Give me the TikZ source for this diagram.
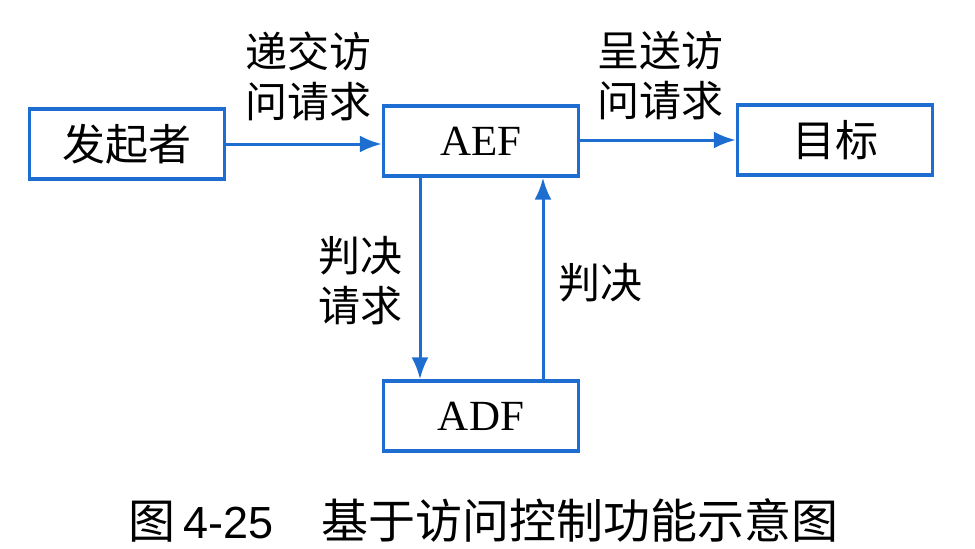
\documentclass[tikz,border=0pt]{standalone}
\usepackage{fontspec}
\setmainfont{Liberation Serif}
\newfontfamily\cjk{Noto Sans CJK SC}
\newfontfamily\capsans{Liberation Sans}
\usetikzlibrary{arrows.meta}
\definecolor{lineblue}{RGB}{30,110,210}
\tikzset{
  box/.style={draw=lineblue, line width=3.4pt, minimum width=195pt, minimum height=70pt, inner sep=0pt, font=\fontsize{43}{44}\selectfont},
  conn/.style={draw=lineblue, line width=3pt, -{Latex[length=22pt,width=17pt]}},
  lab/.style={font=\cjk\fontsize{42}{50}\selectfont, align=center, inner sep=0pt}
}
\begin{document}
\begin{tikzpicture}[x=1pt,y=-1pt]
\useasboundingbox (0,0) rectangle (975,549);
\node[box] (src) at (127,144) {\cjk 发起者};
\node[box] (aef) at (481,141) {AEF};
\node[box] (tgt) at (835,140) {\cjk 目标};
\node[box] (adf) at (481,416) {ADF};
\draw[conn] (src.east) -- (src.east -| aef.west);
\draw[conn] (aef.east |- tgt.west) -- (tgt.west);
\coordinate (dtop) at (420,178);
\coordinate (utop) at (543,178);
\draw[conn] (aef.south -| dtop) -- (adf.north -| dtop);
\draw[conn] (adf.north -| utop) -- (aef.south -| utop);
\node[lab] (l1) at (308,76) {递交访\\问请求};
\node[lab] (l2) at (660,76) {呈送访\\问请求};
\node[lab] (l3) at (360,281) {判决\\请求};
\node[lab] (l4) at (600,283) {判决};
\node[inner sep=0pt, anchor=west] (cap) at (128,520) {\cjk\fontsize{47}{50}\selectfont 图\hspace{8pt}{\capsans\fontsize{45}{50}\selectfont 4-25}\hspace{48pt}基于访问控制功能示意图};
\end{tikzpicture}
\end{document}
